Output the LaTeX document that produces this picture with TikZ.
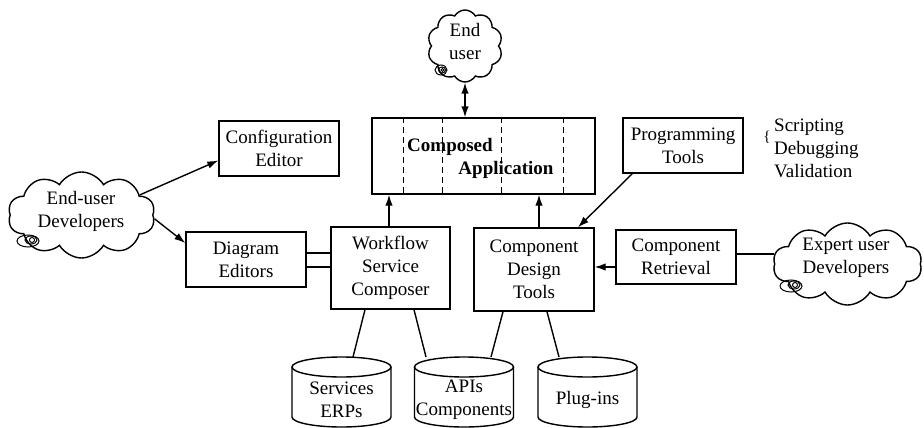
\documentclass[tikz,border=0pt]{standalone}
\usepackage{fontspec}
\setmainfont{Liberation Serif}
\usetikzlibrary{shapes.symbols,arrows.meta,calc}
\begin{document}
\begin{tikzpicture}[x=1pt,y=-1pt,
  font=\fontsize{19}{23}\selectfont,
  every node/.style={inner sep=0pt},
  box/.style={draw,line width=1.4pt,align=center},
  crowd/.style={draw,cloud,cloud puffs=10,cloud puff arc=120,cloud ignores aspect,line width=1.4pt},
  link/.style={line width=1.4pt},
  arr/.style={link,-{Latex[length=11pt,width=7.5pt]}},
  twoway/.style={link,{Latex[length=11pt,width=7.5pt]}-{Latex[length=11pt,width=7.5pt]}},
  curl/.style={line width=1pt},
  ]
\useasboundingbox (0,0) rectangle (924,428);

% tool boxes
\node[box,minimum width=120pt,minimum height=55pt] (cfg) at (279,148.5) {Configuration\\Editor};
\node[box,minimum width=120pt,minimum height=55pt] (prog) at (683,145.5) {Programming\\Tools};
\node[box,minimum width=120pt,minimum height=55pt] (diag) at (246,259.5) {Diagram\\Editors};
\node[box,minimum width=119pt,minimum height=82pt] (wf) at (390.5,268) {Workflow\\Service\\Composer};
\node[box,minimum width=120pt,minimum height=83pt] (cdt) at (534,269.5) {Component\\Design\\Tools};
\node[box,minimum width=120pt,minimum height=54pt] (cr) at (676,257) {Component\\Retrieval};

% composed application with its dashed partitions
\node[box,minimum width=223pt,minimum height=76pt] (app) at (483.5,156) {};
\foreach \dx in {32,71,130,192}
  \draw[line width=1.1pt,dash pattern=on 6pt off 4pt]
    ($(app.north west)+(\dx,0)$) -- ($(app.south west)+(\dx,0)$);
\node[font=\fontsize{19}{23}\selectfont\bfseries] (appa) at (450,147) {Composed};
\node[font=\fontsize{19}{23}\selectfont\bfseries] (appb) at (506,170) {Application};

% programming activities
\node[font=\fontsize{15}{15}\selectfont] (brc) at (767,137) {\{};
\node[align=left,anchor=west] (acts) at (774,148) {Scripting\\Debugging\\Validation};

% user groups: cloud outlines and their captions
\node[crowd,minimum width=75pt,minimum height=72pt] (eu) at (465,46) {};
\node[align=center] (eut) at (465,41.5) {End\\user};
\node[crowd,minimum width=147pt,minimum height=86pt] (ed) at (81.5,215) {};
\node[align=center] (edt) at (81,211.5) {End-user\\Developers};
\node[crowd,minimum width=149pt,minimum height=82pt] (xd) at (847.5,264) {};
\node[align=center] (xdt) at (846,257.5) {Expert user\\Developers};

% small curls on the clouds
\begin{scope}[shift={(28,241)}]
  \draw[curl] (0,0) ellipse (11pt and 6pt);
  \draw[curl] (3,-1) ellipse (6pt and 4pt);
  \draw[curl] (4,-1) circle (2.5pt);
\end{scope}
\begin{scope}[shift={(441,70)}]
  \draw[curl] (0,0) ellipse (6pt and 5pt);
  \draw[curl] (1,0) ellipse (3.5pt and 3pt);
  \draw[curl] (1.5,0) circle (1.5pt);
\end{scope}
\begin{scope}[shift={(791,286)}]
  \draw[curl] (0,0) ellipse (11pt and 6pt);
  \draw[curl] (3,-1) ellipse (6pt and 4pt);
  \draw[curl] (4,-1) circle (2.5pt);
\end{scope}

% data stores
\foreach \nm/\cx/\txt in {srv/341.5/{Services\\ERPs}, api/464/{APIs\\Components}, plg/587.5/{Plug-ins}} {
  \draw[link] ({\cx-49.5},367) -- ({\cx-49.5},417)
     arc[start angle=180,end angle=360,x radius=49.5pt,y radius=10pt] -- ({\cx+49.5},367);
  \draw[link] (\cx,367) ellipse (49.5pt and 10pt);
  \coordinate (\nm-top) at (\cx,357);
  \node[align=center] (\nm) at (\cx,400) {\txt};
}

% connectors
\draw[twoway] (eu.south) -- (eu.south |- app.north);
\draw[arr] (ed.19) -- ([yshift=-12pt]cfg.west);
\draw[arr] (ed.-3) -- ([yshift=16.5pt]diag.west);
\draw[link] ([yshift=6.5pt]diag.east) -- ([yshift=6.5pt]diag.east -| wf.west);
\draw[link] ([yshift=-7.5pt]diag.east) -- ([yshift=-7.5pt]diag.east -| wf.west);
\draw[arr] ([xshift=-1.5pt]wf.north) -- ([xshift=-1.5pt]wf.north |- app.south);
\draw[arr] ([xshift=5pt]cdt.north) -- ([xshift=5pt]cdt.north |- app.south);
\draw[arr] ([xshift=10pt]prog.south west) -- ([xshift=44pt]cdt.north);
\draw[arr] ([yshift=-10pt]cr.west) -- ([yshift=-10pt]cr.west -| cdt.east);
\draw[link] ([yshift=3pt]cr.east) -- ([yshift=3pt]cr.east -| xd.west);
\draw[link] ([xshift=-25.5pt]wf.south) -- ($(srv-top)+(11.5,0)$);
\draw[link] ([xshift=23.5pt]wf.south) -- ($(api-top)+(-38,0)$);
\draw[link] ([xshift=-31pt]cdt.south) -- ($(api-top)+(27,0)$);
\draw[link] ([xshift=13pt]cdt.south) -- ($(plg-top)+(-28.5,0)$);
\end{tikzpicture}
\end{document}
